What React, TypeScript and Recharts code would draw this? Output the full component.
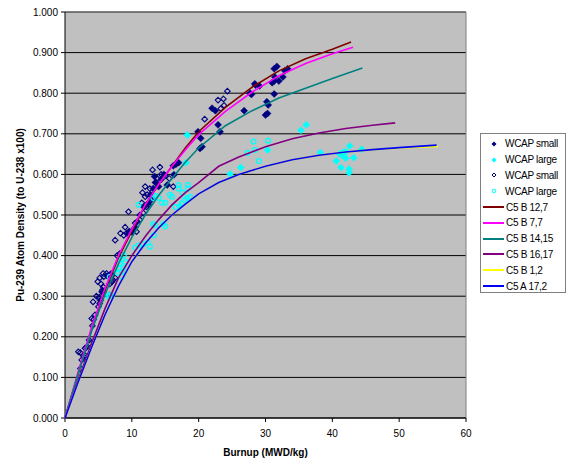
import React from "react";
import {
  ScatterChart,
  Scatter,
  XAxis,
  YAxis,
  CartesianGrid,
  ReferenceLine,
  Label,
} from "recharts";

const FONT = '"Liberation Sans", Arial, sans-serif';

const xTicks = [0, 10, 20, 30, 40, 50, 60];
const yTicks = [0, 0.1, 0.2, 0.3, 0.4, 0.5, 0.6, 0.7, 0.8, 0.9, 1.0];

// measured points, [burnup, atom density]
const wcapSmallFilled: [number, number][] = [
  [19.9, 0.705], [20.3, 0.689], [20.2, 0.664], [20.5, 0.668], [22.9, 0.722],
  [23.2, 0.705], [22.0, 0.763], [22.5, 0.757], [26.8, 0.757], [27.9, 0.797],
  [27.7, 0.8], [28.5, 0.82], [29.1, 0.818], [28.4, 0.823], [30.2, 0.779],
  [30.4, 0.771], [30.0, 0.746], [30.3, 0.75], [31.0, 0.826], [31.3, 0.83],
  [31.4, 0.84], [31.3, 0.798], [31.3, 0.86], [31.7, 0.866], [32.0, 0.83],
  [32.6, 0.84], [32.9, 0.855], [33.3, 0.86], [16.2, 0.621], [16.6, 0.625],
  [17.0, 0.629], [15.3, 0.574], [16.3, 0.599], [12.8, 0.55], [13.2, 0.565],
  [13.6, 0.58], [14.0, 0.57], [13.4, 0.595], [14.4, 0.588], [12.5, 0.53],
  [11.8, 0.52], [13.0, 0.54], [14.8, 0.6], [10.5, 0.47], [10.0, 0.46],
  [9.5, 0.455], [6.5, 0.35], [6.9, 0.355], [5.3, 0.29], [5.7, 0.31],
];

const wcapLargeFilled: [number, number][] = [
  [42.6, 0.67], [44.4, 0.662], [41.4, 0.652], [41.7, 0.655], [42.0, 0.656],
  [41.6, 0.65], [41.1, 0.65], [41.5, 0.647], [40.6, 0.633], [42.0, 0.64],
  [43.2, 0.641], [41.3, 0.617], [42.5, 0.613], [42.5, 0.604], [38.2, 0.654],
  [35.3, 0.709], [36.1, 0.722], [24.7, 0.601], [26.3, 0.617], [30.3, 0.66],
  [18.3, 0.697], [18.1, 0.629], [17.2, 0.522],
];

const wcapSmallOpen: [number, number][] = [
  [2.0, 0.163], [2.3, 0.161], [2.5, 0.143], [2.3, 0.122], [2.8, 0.151],
  [3.1, 0.153], [3.0, 0.172], [3.2, 0.174], [3.7, 0.184], [3.6, 0.192],
  [4.1, 0.227], [4.3, 0.243], [4.0, 0.245], [4.5, 0.254], [4.2, 0.286],
  [5.0, 0.274], [5.2, 0.282], [4.7, 0.3], [5.1, 0.297], [5.5, 0.302],
  [5.6, 0.315], [5.7, 0.323], [5.4, 0.33], [5.2, 0.345], [5.8, 0.348],
  [6.3, 0.35], [6.7, 0.352], [7.0, 0.352], [4.9, 0.336], [6.7, 0.33],
  [7.0, 0.335], [7.2, 0.34], [7.5, 0.345], [5.5, 0.311], [5.7, 0.356],
  [6.2, 0.356], [6.7, 0.303], [7.5, 0.438], [7.8, 0.4], [8.2, 0.405],
  [8.3, 0.455], [8.8, 0.45], [9.2, 0.455], [9.6, 0.46], [10.0, 0.458],
  [10.7, 0.459], [9.0, 0.47], [10.5, 0.48], [10.8, 0.484], [11.2, 0.488],
  [9.5, 0.508], [11.2, 0.5], [11.7, 0.505], [12.2, 0.52], [12.5, 0.525],
  [11.5, 0.53], [12.0, 0.545], [12.3, 0.55], [12.7, 0.565], [13.1, 0.611],
  [14.2, 0.618], [13.5, 0.58], [13.8, 0.59], [14.4, 0.6], [15.0, 0.597],
  [15.6, 0.59], [16.2, 0.57], [12.0, 0.57], [11.6, 0.555], [20.9, 0.736],
  [22.9, 0.783], [23.7, 0.786], [23.3, 0.762], [23.8, 0.77], [24.3, 0.805],
];

const wcapLargeOpen: [number, number][] = [
  [13.5, 0.547], [14.0, 0.542], [13.2, 0.542], [16.0, 0.545], [15.7, 0.55],
  [17.0, 0.574], [17.0, 0.565], [18.4, 0.574], [18.4, 0.565], [17.6, 0.555],
  [17.9, 0.537], [18.3, 0.542], [18.7, 0.545], [15.0, 0.53], [14.5, 0.53],
  [11.0, 0.525], [16.5, 0.52], [17.5, 0.529], [28.2, 0.681], [30.4, 0.683],
  [27.3, 0.653], [28.4, 0.66], [29.0, 0.633], [13.2, 0.478], [13.5, 0.475],
  [14.7, 0.478], [15.0, 0.472], [12.7, 0.422], [13.3, 0.45], [8.2, 0.381],
  [9.0, 0.385], [7.5, 0.365], [8.2, 0.368], [8.7, 0.37], [7.9, 0.357],
  [8.5, 0.36], [6.7, 0.348], [6.5, 0.299], [6.7, 0.303], [7.0, 0.3],
  [10.5, 0.42], [11.0, 0.425], [11.7, 0.428], [12.4, 0.432], [8.5, 0.39],
  [8.8, 0.4], [8.5, 0.348],
];

// calculated curves
const c5b127: [number, number][] = [
  [0, 0], [2, 0.11], [4, 0.22], [6, 0.315], [8, 0.395], [10, 0.46],
  [12, 0.525], [14, 0.575], [16, 0.62], [18, 0.665], [20, 0.705],
  [24, 0.765], [28, 0.815], [32, 0.855], [36, 0.885], [40, 0.908], [42.8, 0.926],
];
const c5b77: [number, number][] = [
  [0, 0], [2, 0.115], [4, 0.225], [6, 0.32], [8, 0.4], [10, 0.465],
  [12, 0.525], [14, 0.575], [16, 0.62], [18, 0.66], [20, 0.698],
  [24, 0.755], [28, 0.803], [32, 0.843], [36, 0.873], [40, 0.897], [43.1, 0.913],
];
const c5b1415: [number, number][] = [
  [0, 0], [2, 0.11], [4, 0.215], [6, 0.305], [8, 0.38], [10, 0.445],
  [12, 0.5], [14, 0.548], [16, 0.59], [18, 0.63], [20, 0.665],
  [24, 0.72], [28, 0.757], [32, 0.788], [36, 0.812], [40, 0.836], [44.5, 0.862],
];
const c5b1617: [number, number][] = [
  [0, 0], [2, 0.095], [4, 0.185], [6, 0.27], [8, 0.345], [10, 0.4],
  [12, 0.447], [14, 0.488], [16, 0.525], [18, 0.555], [20, 0.58],
  [23, 0.62], [26, 0.643], [30, 0.668], [34, 0.688], [38, 0.702],
  [42, 0.713], [46, 0.721], [49.4, 0.727],
];
const c5b12: [number, number][] = [
  [0, 0], [2, 0.09], [4, 0.175], [6, 0.255], [8, 0.325], [10, 0.385],
  [12, 0.43], [14, 0.468], [16, 0.5], [18, 0.527], [20, 0.552], [23, 0.58],
  [26, 0.6], [30, 0.62], [34, 0.636], [38, 0.647], [42, 0.655], [46, 0.661],
  [50, 0.665], [55.8, 0.669],
];
const c5a172: [number, number][] = [
  [0, 0], [2, 0.09], [4, 0.175], [6, 0.255], [8, 0.325], [10, 0.385],
  [12, 0.43], [14, 0.468], [16, 0.5], [18, 0.527], [20, 0.552], [23, 0.58],
  [26, 0.6], [30, 0.62], [34, 0.636], [38, 0.647], [42, 0.655], [46, 0.661],
  [50, 0.666], [55.6, 0.672],
];

const toXY = (pts: [number, number][]) => pts.map(([x, y]) => ({ x, y }));

const NAVY = "#000080";
const CYAN = "#00FFFF";

const lines = [
  { name: "C5 B 12,7", color: "#800000", pts: c5b127 },
  { name: "C5 B 7,7", color: "#FF00FF", pts: c5b77 },
  { name: "C5 B 14,15", color: "#008080", pts: c5b1415 },
  { name: "C5 B 16,17", color: "#800080", pts: c5b1617 },
  { name: "C5 B 1,2", color: "#FFFF00", pts: c5b12 },
  { name: "C5 A 17,2", color: "#0000FF", pts: c5a172 },
];

const diamond = (cx: number, cy: number, r: number) =>
  `${cx},${cy - r} ${cx + r},${cy} ${cx},${cy + r} ${cx - r},${cy}`;

const FilledDiamond = (color: string) => (p: any) =>
  <polygon points={diamond(p.cx, p.cy, 3.5)} fill={color} stroke={color} strokeWidth={0.5} />;
const OpenDiamond = (p: any) =>
  <polygon points={diamond(p.cx, p.cy, 2.8)} fill="none" stroke={NAVY} strokeWidth={1.1} />;
const OpenCircle = (p: any) =>
  <circle cx={p.cx} cy={p.cy} r={2.4} fill="none" stroke={CYAN} strokeWidth={1.3} />;
const NoDot = () => <g />;

const legendMarkers = [
  { name: "WCAP small", icon: <polygon points={diamond(6, 6, 2.5)} fill={NAVY} /> },
  { name: "WCAP large", icon: <polygon points={diamond(6, 6, 2.5)} fill={CYAN} /> },
  { name: "WCAP small", icon: <polygon points={diamond(6, 6, 2)} fill="none" stroke={NAVY} strokeWidth={1} /> },
  { name: "WCAP large", icon: <circle cx={6} cy={6} r={1.8} fill="none" stroke={CYAN} strokeWidth={1} /> },
];

function ChartLegend() {
  return (
    <div
      style={{
        position: "absolute",
        left: 480,
        top: 133,
        width: 86,
        height: 160,
        border: "1px solid #808080",
        background: "#fff",
        fontFamily: FONT,
        fontSize: 10,
        color: "#000",
        boxSizing: "border-box",
        paddingTop: 2,
      }}
    >
      {legendMarkers.map((m, i) => (
        <div key={"m" + i} style={{ height: 15.8, display: "flex", alignItems: "center" }}>
          <svg width={12} height={12} style={{ marginLeft: 7, marginRight: 5 }}>{m.icon}</svg>
          <span style={{ letterSpacing: -0.3 }}>{m.name}</span>
        </div>
      ))}
      {lines.map((l) => (
        <div key={l.name} style={{ height: 15.8, display: "flex", alignItems: "center" }}>
          <svg width={22} height={4} style={{ marginLeft: 2, marginRight: 1 }}>
            <line x1={0} y1={2} x2={21} y2={2} stroke={l.color} strokeWidth={2} />
          </svg>
          <span style={{ letterSpacing: -0.3 }}>{l.name}</span>
        </div>
      ))}
    </div>
  );
}

export default function App() {
  return (
    <div
      style={{
        position: "absolute",
        left: 0,
        top: 0,
        width: 574,
        height: 467,
        background: "#fff",
        fontFamily: FONT,
      }}
    >
      <ScatterChart width={574} height={467} margin={{ top: 12, right: 108, bottom: 0, left: 0 }}>
        <CartesianGrid fill="#C0C0C0" fillOpacity={1} stroke="#000" vertical={false} />
        <XAxis
          type="number"
          dataKey="x"
          domain={[0, 60]}
          ticks={xTicks}
          height={49}
          tickSize={4}
          tickMargin={8}
          axisLine={{ stroke: "#000" }}
          tickLine={{ stroke: "#000" }}
          tick={{ fill: "#000", fontSize: 10, fontFamily: FONT }}
        >
          <Label
            content={() => (
              <text x={265.5} y={456} textAnchor="middle" fontSize={10} fontWeight="bold" fontFamily={FONT} fill="#000">
                Burnup (MWD/kg)
              </text>
            )}
          />
        </XAxis>
        <YAxis
          type="number"
          dataKey="y"
          domain={[0, 1]}
          ticks={yTicks}
          width={65}
          tickSize={4}
          tickMargin={3}
          tickFormatter={(v: number) => v.toFixed(3)}
          axisLine={{ stroke: "#000" }}
          tickLine={{ stroke: "#000" }}
          tick={{ fill: "#000", fontSize: 10, fontFamily: FONT }}
        >
          <Label
            content={() => (
              <text
                x={20}
                y={215}
                transform="rotate(-90 20 215)"
                textAnchor="middle"
                dominantBaseline="central"
                fontSize={10}
                fontWeight="bold"
                fontFamily={FONT}
                fill="#000"
              >
                Pu-239 Atom Density (to U-238 x100)
              </text>
            )}
          />
        </YAxis>
        <ReferenceLine y={1} stroke="#808080" />
        <ReferenceLine x={60} stroke="#808080" />
        <Scatter name="WCAP small" data={toXY(wcapSmallFilled)} shape={FilledDiamond(NAVY)} isAnimationActive={false} />
        <Scatter name="WCAP large" data={toXY(wcapLargeFilled)} shape={FilledDiamond(CYAN)} isAnimationActive={false} />
        <Scatter name="WCAP small" data={toXY(wcapSmallOpen)} shape={OpenDiamond} isAnimationActive={false} />
        <Scatter name="WCAP large" data={toXY(wcapLargeOpen)} shape={OpenCircle} isAnimationActive={false} />
        {lines.map((l) => (
          <Scatter
            key={l.name}
            name={l.name}
            data={toXY(l.pts)}
            line={{ stroke: l.color, strokeWidth: 1.6 }}
            lineType="joint"
            shape={NoDot}
            isAnimationActive={false}
          />
        ))}
      </ScatterChart>
      <ChartLegend />
    </div>
  );
}
